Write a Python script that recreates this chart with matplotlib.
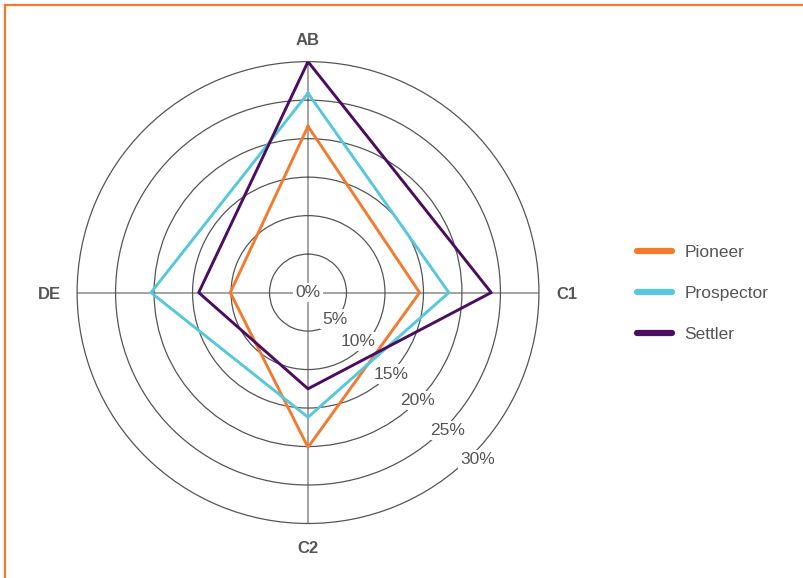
import numpy as np
import matplotlib.pyplot as plt
from matplotlib.lines import Line2D

plt.rcParams['font.family'] = ['Liberation Sans', 'DejaVu Sans']

# categories clockwise from the top
categories = ["AB", "C1", "C2", "DE"]
pioneer = [21.6, 14.5, 20.1, 10.1]
prospector = [25.9, 18.3, 16.2, 20.4]
settler = [30.0, 23.8, 12.5, 14.2]
ticks = [5, 10, 15, 20, 25, 30]

series = [("Pioneer", pioneer, "#F37A2E"),
          ("Prospector", prospector, "#55C8DC"),
          ("Settler", settler, "#4A0D5F")]

text_grey = "#555555"

fig = plt.figure(figsize=(8.04, 5.78), dpi=100)
ax = fig.add_axes([0.0958, 0.0943, 0.5746, 0.799], projection="polar")
ax.set_theta_zero_location("N")
ax.set_theta_direction(-1)

angles = np.linspace(0, 2 * np.pi, len(categories), endpoint=False)

for name, vals, col in series:
  a = np.append(angles, angles[0])
  v = np.append(vals, vals[0])
  ax.plot(a, v, color=col, lw=2.1, zorder=4, label=name)

ax.set_ylim(0, 30)
ax.set_rgrids(ticks[:-1], labels=[])
ax.set_thetagrids(np.degrees(angles), labels=[])
ax.yaxis.grid(True, color="#555555", lw=0.9)
ax.xaxis.grid(True, color="#8a8a8a", lw=1.1)
ax.spines["polar"].set_color("#555555")
ax.spines["polar"].set_linewidth(0.9)

# category labels just outside the rim (side ones sit a bit further out)
label_r = [33.0, 33.6, 33.0, 33.6]
for ang, cat, r in zip(angles, categories, label_r):
  ax.text(ang, r, cat, ha="center", va="center_baseline", fontsize=12,
          fontweight="bold", color=text_grey)

# percentage labels on the lower-right diagonal
box = dict(boxstyle="square,pad=0.12", fc="white", ec="none")
ax.text(0, 0, "0%", ha="center", va="center", fontsize=12.5, color=text_grey,
        bbox=box, zorder=3)
tick_pos = [4.9, 9.1, 15.1, 20.0, 25.5, 30.9]
for t, r in zip(ticks, tick_pos):
  ax.text(np.deg2rad(134.5), r, f"{t}%", ha="center", va="center",
          fontsize=12.5, color=text_grey, bbox=box, zorder=3)

handles = [Line2D([], [], color=c, lw=4.5, solid_capstyle="round")
           for _, _, c in series]
leg = fig.legend(handles, [s[0] for s in series], loc="center left",
                 bbox_to_anchor=(0.792, 0.492), frameon=False, fontsize=12.5,
                 handlelength=2.05, handletextpad=0.7, labelspacing=1.5,
                 borderpad=0, borderaxespad=0)
for txt in leg.get_texts():
  txt.set_color(text_grey)

# orange frame on top and left edges
fig.add_artist(Line2D([5 / 804, 1], [1 - 5 / 578, 1 - 5 / 578],
                      transform=fig.transFigure, color="#F37A2E", lw=1.6))
fig.add_artist(Line2D([5 / 804, 5 / 804], [0, 1 - 5 / 578],
                      transform=fig.transFigure, color="#F37A2E", lw=1.6))

fig.savefig("out.png", dpi=100)
